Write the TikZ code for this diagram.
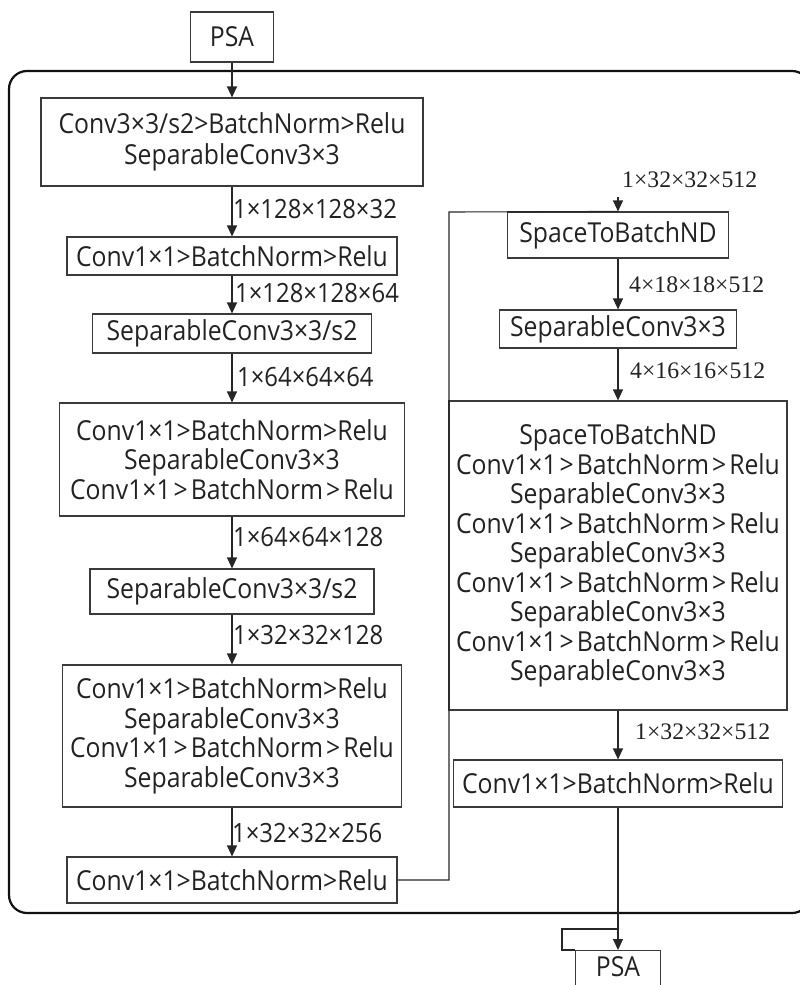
\documentclass[tikz,border=0pt]{standalone}
\usepackage{fontspec}
\setmainfont{Open Sans}[FakeStretch=0.9]
\newfontfamily\lblserif{Liberation Serif}
\usetikzlibrary{arrows.meta}
\definecolor{boxc}{HTML}{3A3A3A}
\definecolor{linec}{HTML}{262626}
\definecolor{txtc}{HTML}{222222}
\definecolor{outerc}{HTML}{111111}
\newcommand\mainsz{\fontsize{27.5}{29.5}\selectfont}
\newcommand\firstsz{\fontsize{27.5}{31}\selectfont}
\newcommand\lblsz{\fontsize{26.5}{28}\selectfont}
\newcommand\rlblsz{\lblserif\fontsize{23.7}{26}\selectfont}
\newcommand\sgt{\hspace{3pt}>\hspace{3pt}}
\begin{document}
\begin{tikzpicture}[x=1pt,y=-1pt,
  box/.style={draw=boxc,line width=1.1pt,inner sep=0pt,align=center,text=txtc,font=\mainsz},
  arr/.style={draw=linec,line width=1.1pt,-{Triangle[length=11pt,width=10pt]}},
  conn/.style={draw=linec,line width=1.1pt},
  lbl/.style={anchor=west,inner sep=0pt,text=txtc,font=\lblsz},
  rlbl/.style={anchor=west,inner sep=0pt,text=txtc,font=\rlblsz},
  outer/.style={draw=outerc,line width=2.2pt,rounded corners=18pt}]
\useasboundingbox (0,0) rectangle (800,985);
\clip (0,0) rectangle (800,985);

% outer frame
\draw[outer] (9,71) rectangle (810,913);

% left column
\node[box,minimum width=83,minimum height=50] (psa1) at (232,37) {PSA};
\node[box,font=\firstsz,minimum width=382,minimum height=88] (b1) at (232,142)
  {Conv3×3/s2>BatchNorm>Relu\\SeparableConv3×3};
\node[box,minimum width=330,minimum height=38] (b2) at (232,256) {Conv1×1>BatchNorm>Relu};
\node[box,minimum width=279,minimum height=39] (b3) at (232,333.5) {SeparableConv3×3/s2};
\node[box,minimum width=345,minimum height=113] (b4) at (232,459.5)
  {Conv1×1>BatchNorm>Relu\\SeparableConv3×3\\Conv1×1\sgt BatchNorm\sgt Relu};
\node[box,minimum width=284,minimum height=45] (b5) at (232,591.5) {SeparableConv3×3/s2};
\node[box,minimum width=339,minimum height=142] (b6) at (232,736)
  {Conv1×1>BatchNorm>Relu\\SeparableConv3×3\\Conv1×1\sgt BatchNorm\sgt Relu\\SeparableConv3×3};
\node[box,minimum width=330,minimum height=46] (b7) at (232,880) {Conv1×1>BatchNorm>Relu};

% right column
\node[box,minimum width=221,minimum height=46] (r1) at (618,235) {SpaceToBatchND};
\node[box,minimum width=237,minimum height=38] (r2) at (618,329) {SeparableConv3×3};
\node[box,minimum width=338,minimum height=309] (r3) at (618,555.5)
  {SpaceToBatchND\\Conv1×1\sgt BatchNorm\sgt Relu\\SeparableConv3×3\\
   Conv1×1\sgt BatchNorm\sgt Relu\\SeparableConv3×3\\
   Conv1×1\sgt BatchNorm\sgt Relu\\SeparableConv3×3\\
   Conv1×1\sgt BatchNorm\sgt Relu\\SeparableConv3×3};
\node[box,minimum width=329,minimum height=47] (r4) at (618,783.5) {Conv1×1>BatchNorm>Relu};
\node[box,minimum width=85,anchor=north,inner ysep=6pt,text depth=30pt] (psa2) at (618,950) {PSA};

% helper coordinates
\coordinate (jn) at (449,212);
\coordinate (rin) at (618,197);
\coordinate (bk1) at (562,929);
\coordinate (bk2) at (618,929);

% left connectors
\draw[arr] (psa1.south) -- (b1.north);
\draw[arr] (b1.south) -- (b2.north);
\draw[arr] (b2.south) -- (b3.north);
\draw[arr] (b3.south) -- (b4.north);
\draw[arr] (b4.south) -- (b5.north);
\draw[arr] (b5.south) -- (b6.north);
\draw[arr] (b6.south) -- (b7.north);

% cross connector
\draw[conn] (b7.east) -| (jn) -- (r1.north);
\draw[arr] (rin) -- (r1.north);

% right connectors
\draw[arr] (r1.south) -- (r2.north);
\draw[arr] (r2.south) -- (r3.north);
\draw[arr] (r3.south) -- (r4.north);
\draw[arr] (r4.south) -- (psa2.north);
\draw[conn] (psa2.north west) -| (bk1) -- (bk2);

% labels left
\node[lbl] (l1) at (233,209) {1×128×128×32};
\node[lbl] (l2) at (235,293) {1×128×128×64};
\node[lbl] (l3) at (237,377) {1×64×64×64};
\node[lbl] (l4) at (233,537) {1×64×64×128};
\node[lbl] (l5) at (233,635) {1×32×32×128};
\node[lbl] (l6) at (232,833) {1×32×32×256};

% labels right
\node[rlbl] (m1) at (622,180) {1×32×32×512};
\node[rlbl] (m2) at (629,285) {4×18×18×512};
\node[rlbl] (m3) at (630,371) {4×16×16×512};
\node[rlbl] (m4) at (635,732) {1×32×32×512};
\end{tikzpicture}
\end{document}
